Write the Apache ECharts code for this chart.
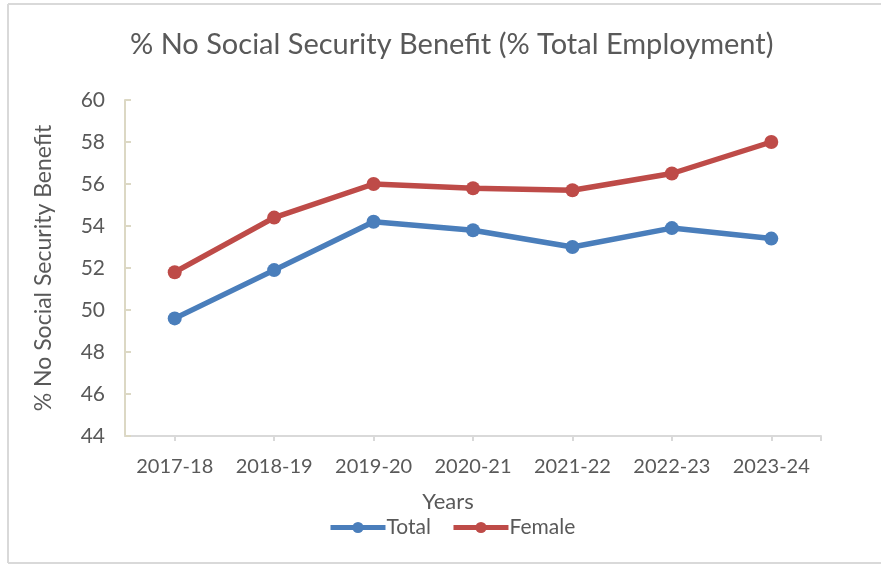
<!DOCTYPE html>
<html>
<head>
<meta charset="utf-8">
<script src="https://cdn.jsdelivr.net/npm/echarts@6/dist/echarts.min.js"></script>
<style>
  html, body { margin: 0; padding: 0; background: #fff; }
  #chart { width: 881px; height: 564px; }
</style>
</head>
<body>
<div id="chart"></div>
<script>
// Fiscal years on the category axis
const years = ['2017-18', '2018-19', '2019-20', '2020-21', '2021-22', '2022-23', '2023-24'];
// Share of employed with no social security benefit (%)
const totalValues = [49.6, 51.9, 54.2, 53.8, 53.0, 53.9, 53.4];
const femaleValues = [51.8, 54.4, 56.0, 55.8, 55.7, 56.5, 58.0];
// Value axis range
const yMin = 44, yMax = 60, yStep = 2;

const FONT = 'Lato, "Liberation Sans", sans-serif';
const TEXT = '#595959';
const BLUE = '#4a7ebb';
const RED = '#be4b48';

const chart = echarts.init(document.getElementById('chart'), null, { renderer: 'canvas' });

chart.setOption({
  backgroundColor: '#ffffff',
  animation: false,
  textStyle: { fontFamily: FONT, color: TEXT },
  title: {
    text: '% No Social Security Benefit (% Total Employment)',
    left: 125,
    top: 25,
    textStyle: { fontFamily: FONT, fontSize: 29, fontWeight: 'normal', color: TEXT }
  },
  grid: { left: 125, right: 60, top: 100, bottom: 128 },
  legend: {
    bottom: 21,
    left: 323,
    itemWidth: 55,
    itemHeight: 14,
    itemGap: 20,
    lineStyle: { width: 5 },
    textStyle: { fontFamily: FONT, fontSize: 21, color: TEXT, padding: [0, 0, 0, -4] },
    data: ['Total', 'Female']
  },
  xAxis: {
    type: 'category',
    data: years,
    boundaryGap: true,
    name: 'Years',
    nameLocation: 'middle',
    nameGap: 55,
    nameTextStyle: { fontFamily: FONT, fontSize: 22, color: TEXT, padding: [0, 50, 0, 0] },
    axisLine: { lineStyle: { color: '#d9d9d9', width: 2 } },
    axisTick: { show: true, alignWithLabel: true, interval: 0, length: 5, lineStyle: { color: '#d9d9d9', width: 2 } },
    axisLabel: { fontFamily: FONT, fontSize: 20, color: TEXT, margin: 21, interval: 0 }
  },
  yAxis: {
    type: 'value',
    min: yMin,
    max: yMax,
    interval: yStep,
    name: '% No Social Security Benefit',
    nameLocation: 'middle',
    nameGap: 70,
    nameTextStyle: { fontFamily: FONT, fontSize: 23, color: TEXT },
    axisLine: { show: true, lineStyle: { color: '#dcd8c4', width: 2 } },
    axisTick: { show: true, inside: true, length: 6, lineStyle: { color: '#dcd8c4', width: 2 } },
    axisLabel: { fontFamily: FONT, fontSize: 21, color: TEXT, margin: 20 },
    splitLine: { show: false }
  },
  series: [
    {
      name: 'Total',
      type: 'line',
      data: totalValues,
      symbol: 'circle',
      symbolSize: 14,
      color: BLUE,
      lineStyle: { width: 5.5, color: BLUE },
      itemStyle: { color: BLUE }
    },
    {
      name: 'Female',
      type: 'line',
      data: femaleValues,
      symbol: 'circle',
      symbolSize: 14,
      color: RED,
      lineStyle: { width: 5.5, color: RED },
      itemStyle: { color: RED }
    }
  ]
});

// closing tick at the right end of the category axis, plus a light frame
const grid = chart.getModel().getComponent('grid').coordinateSystem.getRect();
const axisRight = grid.x + grid.width;
const axisY = grid.y + grid.height;
chart.setOption({
  graphic: [
    { type: 'line', shape: { x1: axisRight, y1: axisY, x2: axisRight, y2: axisY + 5 }, style: { stroke: '#d9d9d9', lineWidth: 2 } },
    { type: 'line', shape: { x1: 8, y1: 4, x2: 881, y2: 4 }, style: { stroke: '#d9d9d9', lineWidth: 2 } },
    { type: 'line', shape: { x1: 8, y1: 4, x2: 8, y2: 563 }, style: { stroke: '#d9d9d9', lineWidth: 2 } },
    { type: 'line', shape: { x1: 8, y1: 563, x2: 881, y2: 563 }, style: { stroke: '#d9d9d9', lineWidth: 2 } }
  ]
});
</script>
</body>
</html>
